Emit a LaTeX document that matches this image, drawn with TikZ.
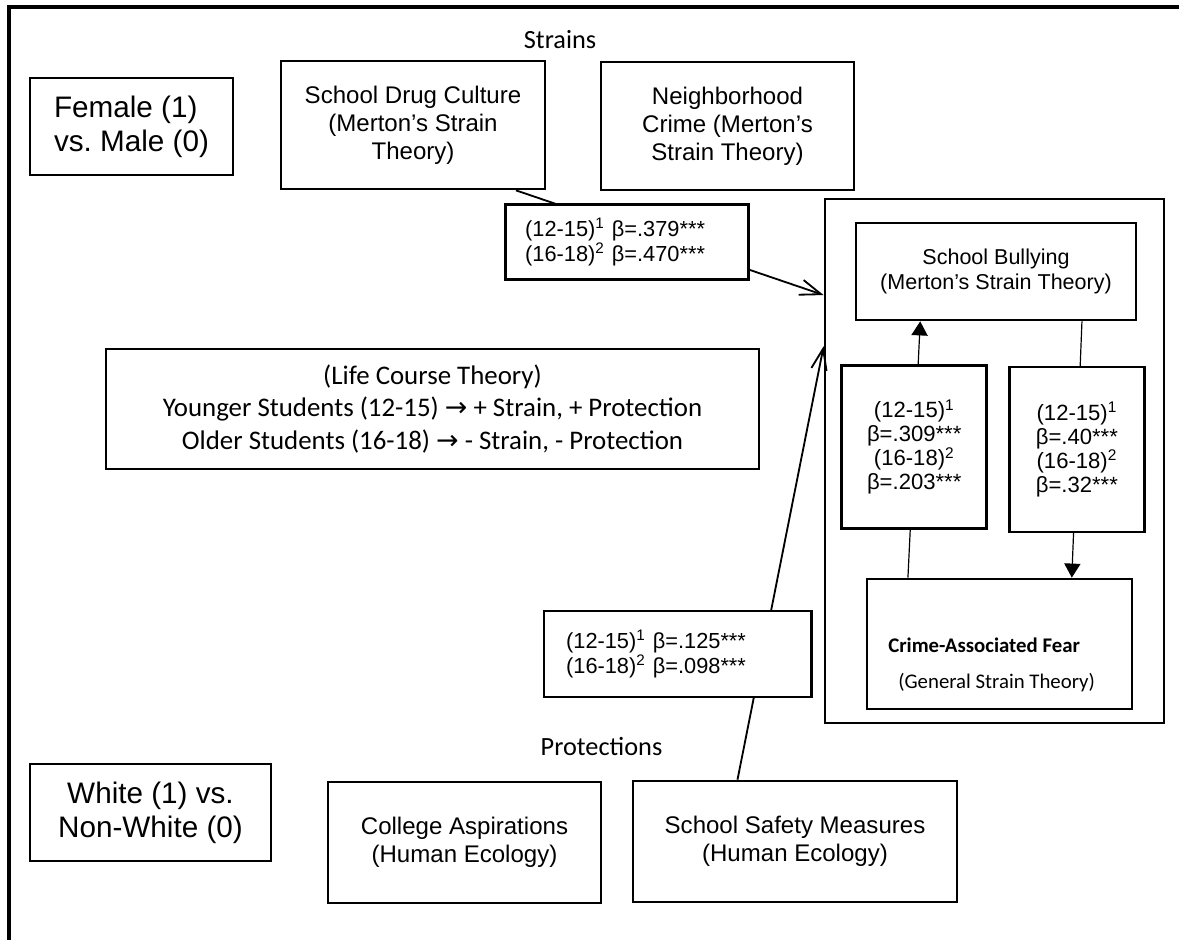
\documentclass[tikz,border=0pt]{standalone}
\usepackage{fontspec}
\setmainfont{Liberation Sans}
\newfontfamily\calibri{Carlito}
\newfontfamily\arrowfont{DejaVu Sans}
\usetikzlibrary{arrows.meta,calc}
\begin{document}
\begin{tikzpicture}[x=0.025cm,y=-0.025cm,
  plainbox/.style={draw,line width=1.9pt,inner sep=0pt,align=center,font=\fontsize{17.1}{19.8}\selectfont},
  demobox/.style={plainbox,font=\fontsize{21.1}{24.2}\selectfont},
  betabox/.style={plainbox,fill=white,align=left,font=\fontsize{15.5}{17.8}\selectfont},
  betasmall/.style={plainbox,fill=white,font=\fontsize{15.7}{17}\selectfont},
  calibritext/.style={inner sep=0pt,font=\calibri\fontsize{18.7}{22.8}\selectfont},
  feartext/.style={inner sep=0pt,anchor=west,font=\calibri\fontsize{14.8}{17}\selectfont},
  inarrow/.style={line width=1.3pt,-{Straight Barb[length=15pt,width=11pt]}},
  fillarrow/.style={line width=0.85pt,-{Triangle[length=10pt,width=11.5pt]}}]
\useasboundingbox (0,0) rectangle (1179,940);
\draw[line width=2.85pt] (1179,7) -- (9,7) -- (9,940);
%strains
\node[calibritext] (strains) at (560,40) {Strains};
\node[demobox,align=left,minimum width=5.075cm,minimum height=2.425cm] (female) at (131.5,126.5) {Female (1)\\vs.\ Male (0)};
\node[plainbox,minimum width=6.6cm,minimum height=3.2cm] (drug) at (413,125) {School Drug Culture\\(Merton’s Strain\\Theory)};
\node[plainbox,minimum width=6.325cm,minimum height=3.2cm] (crime) at (727.5,126) {Neighborhood\\Crime (Merton’s\\Strain Theory)};
%outcomes
\node[plainbox,minimum width=8.475cm,minimum height=13.1cm] (outer) at (994.5,461) {};
\node[plainbox,font=\fontsize{15.3}{17.8}\selectfont,minimum width=7cm,minimum height=2.425cm] (bully) at (996,271.5) {School Bullying\\(Merton’s Strain Theory)};
\node[plainbox,minimum width=6.625cm,minimum height=3.25cm] (fear) at (999.5,644) {};
\node[feartext] (feartitle) at (888,645) {\bfseries Crime-Associated Fear};
\node[feartext] (feartheory) at (898,683) {(General Strain Theory)};
\node[plainbox,calibritext,font=\calibri\fontsize{19.1}{22.8}\selectfont,minimum width=16.325cm,minimum height=3cm] (life) at (432.5,409) {(Life Course Theory)\\Younger Students (12-15) {\arrowfont →} + Strain, + Protection\\Older Students (16-18) {\arrowfont →} - Strain, - Protection};
%protections
\node[calibritext] (prot) at (601.5,746) {Protections};
\node[demobox,minimum width=6.025cm,minimum height=2.425cm] (white) at (150.5,812.5) {White (1) vs.\\Non-White (0)};
\node[plainbox,minimum width=6.825cm,minimum height=3.025cm] (college) at (464.5,842.5) {College Aspirations\\(Human Ecology)};
\node[plainbox,minimum width=8.1cm,minimum height=3.025cm] (safety) at (795,841.5) {School Safety Measures\\(Human Ecology)};
%paths
\draw[inarrow] ($(drug.south west)!0.886!(drug.south east)$) -- ($(outer.north west)!0.185!(outer.south west)$)
  node[betabox,pos=0.36,yshift=-0.35cm,text width=5.075cm,minimum width=6.075cm,minimum height=1.875cm] (strainbeta) {(12-15)\textsuperscript{1} β=.379***\\(16-18)\textsuperscript{2} β=.470***};
\draw[inarrow] ($(safety.north west)!0.324!(safety.north east)$) -- ($(outer.north west)!0.282!(outer.south west)$)
  node[betabox,pos=0.29,xshift=-2.12cm,text width=5.575cm,minimum width=6.675cm,minimum height=2.15cm] (protbeta) {(12-15)\textsuperscript{1} β=.125***\\(16-18)\textsuperscript{2} β=.098***};
\draw[fillarrow] ($(fear.north west)!0.158!(fear.north east)$) -- ($(bully.south west)!0.232!(bully.south east)$)
  node[betasmall,pos=0.51,minimum width=3.625cm,minimum height=4.075cm] (fearbeta) {(12-15)\textsuperscript{1}\\β=.309***\\(16-18)\textsuperscript{2}\\β=.203***};
\draw[fillarrow] ($(bully.south west)!0.804!(bully.south east)$) -- ($(fear.north west)!0.77!(fear.north east)$)
  node[betasmall,pos=0.5,minimum width=3.375cm,minimum height=4.125cm] (bullybeta) {(12-15)\textsuperscript{1}\\β=.40***\\(16-18)\textsuperscript{2}\\β=.32***};
\end{tikzpicture}
\end{document}
